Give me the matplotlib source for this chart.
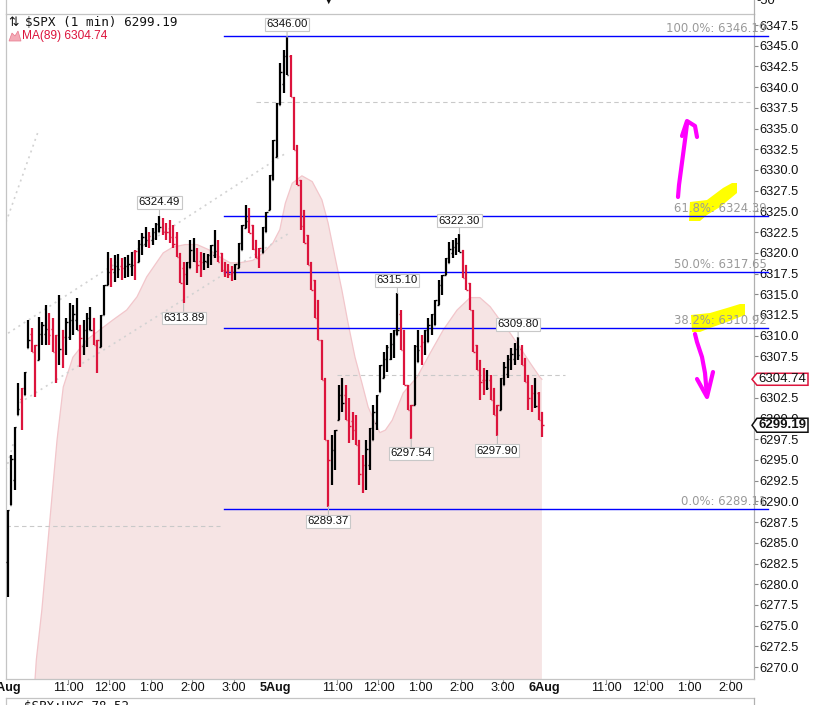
import matplotlib
matplotlib.use('Agg')
import matplotlib.pyplot as plt
import numpy as np
from matplotlib.patches import Polygon
from matplotlib.lines import Line2D
from matplotlib.transforms import IdentityTransform, Affine2D

plt.rcParams['font.family'] = ['Liberation Sans', 'DejaVu Sans']

# ---------------- data (5-minute bars, Aug 4 09:30 -> Aug 5 16:00) ----------------
BAR_MINUTES = 5
HIGH = [
    6288.96, 6295.59, 6298.98, 6304.29, 6303.68, 6305.62, 6311.89, 6310.93, 6308.87, 6312.25, 6311.65, 6313.70, 6312.74,
    6312.13, 6310.08, 6314.91, 6310.69, 6312.13, 6313.94, 6313.70, 6314.55, 6311.29, 6311.89, 6312.74, 6313.46, 6312.13,
    6309.48, 6312.50, 6316.12, 6320.10, 6319.38, 6319.74, 6319.86, 6319.38, 6319.50, 6319.74, 6320.10, 6320.34, 6321.55,
    6322.39, 6323.12, 6322.52, 6323.00, 6323.60, 6324.49, 6324.20, 6323.60, 6323.96, 6323.36, 6322.52, 6319.98, 6318.89,
    6318.89, 6321.55, 6321.79, 6320.58, 6320.10, 6319.98, 6319.86, 6320.95, 6322.76, 6321.55, 6319.98, 6318.89, 6318.65,
    6318.41, 6318.65, 6321.19, 6323.36, 6325.77, 6325.41, 6323.36, 6321.55, 6320.58, 6323.12, 6324.93, 6329.40, 6333.62,
    6338.09, 6342.92, 6344.48, 6346.00, 6343.88, 6338.81, 6333.02, 6328.79, 6325.17, 6322.15, 6318.89, 6316.72, 6314.31,
    6309.48, 6304.89, 6297.41, 6298.01, 6298.62, 6304.05, 6304.89, 6304.05, 6302.48, 6300.79, 6300.43, 6297.41, 6295.59,
    6297.41, 6298.86, 6301.63, 6302.84, 6306.46, 6308.03, 6308.87, 6310.32, 6310.69, 6315.10, 6313.10, 6310.69, 6304.05,
    6301.63, 6308.87, 6310.69, 6310.08, 6310.69, 6312.13, 6312.62, 6314.31, 6316.72, 6317.32, 6319.38, 6321.31, 6321.55,
    6321.79, 6322.30, 6320.34, 6318.53, 6316.36, 6313.10, 6308.87, 6307.06, 6306.10, 6305.86, 6305.25, 6303.68, 6301.63,
    6304.89, 6306.82, 6307.67, 6308.51, 6309.11, 6309.80, 6308.87, 6307.31, 6305.25, 6304.05, 6304.89, 6303.20, 6300.79,
]
LOW = [
    6278.46, 6289.56, 6291.37, 6300.43, 6298.62, 6302.84, 6308.51, 6308.03, 6302.60, 6307.06, 6308.87, 6308.87, 6308.87,
    6308.03, 6304.29, 6306.46, 6306.10, 6307.67, 6309.48, 6310.08, 6310.69, 6306.22, 6307.67, 6308.63, 6310.69, 6308.87,
    6305.50, 6308.63, 6312.50, 6316.12, 6315.88, 6316.48, 6316.96, 6316.72, 6316.96, 6317.08, 6317.20, 6316.72, 6318.89,
    6319.74, 6320.70, 6320.58, 6320.95, 6321.55, 6322.52, 6322.15, 6321.55, 6321.19, 6320.58, 6319.50, 6316.36, 6313.89,
    6316.12, 6318.17, 6318.89, 6317.57, 6317.08, 6317.93, 6318.17, 6318.53, 6319.38, 6318.89, 6317.69, 6317.08, 6316.96,
    6316.60, 6316.72, 6318.17, 6320.34, 6323.00, 6322.39, 6320.34, 6319.38, 6318.17, 6319.98, 6322.52, 6325.17, 6328.79,
    6331.57, 6337.85, 6339.29, 6341.47, 6338.81, 6332.41, 6328.19, 6322.76, 6321.19, 6318.53, 6315.51, 6312.13, 6309.48,
    6304.65, 6297.41, 6289.37, 6291.98, 6293.79, 6299.82, 6300.79, 6299.82, 6297.04, 6297.41, 6296.80, 6291.98, 6291.01,
    6291.37, 6293.79, 6297.41, 6298.62, 6303.20, 6304.89, 6305.62, 6307.06, 6307.31, 6310.08, 6308.27, 6304.05, 6301.03,
    6297.54, 6301.63, 6306.82, 6306.46, 6307.67, 6309.24, 6310.08, 6311.29, 6313.70, 6314.91, 6317.32, 6318.77, 6319.38,
    6319.74, 6320.10, 6316.96, 6315.51, 6313.10, 6308.03, 6305.86, 6302.24, 6302.84, 6303.44, 6302.24, 6300.43, 6297.90,
    6301.03, 6304.05, 6304.89, 6305.86, 6306.46, 6307.06, 6306.46, 6304.41, 6301.03, 6300.79, 6301.27, 6299.82, 6297.77,
]
LAST_CLOSE = 6299.19

# MA(89) read at (minute, value)
MA_MIN = [41, 44, 52, 64, 74, 83, 97, 117, 136, 155, 175, 190, 204, 228, 242, 260, 277, 296, 310, 325,
          339, 358, 373, 387, 397, 405, 415, 429, 444, 458, 467, 477, 487, 496, 506, 516, 525, 535, 542, 550,
          560, 576, 596, 615, 634, 654, 673, 687, 702, 716, 731, 745, 760, 774, 777]
MA_VAL = [6267.2, 6270.9, 6276.9, 6288.1, 6297.4, 6303.8, 6307.4, 6309.5, 6310.7, 6311.9, 6313.1, 6314.7,
          6317.1, 6320.0, 6320.7, 6321.0, 6321.0, 6320.3, 6319.5, 6318.8, 6318.8, 6319.1, 6320.0, 6321.2,
          6322.8, 6326.0, 6328.4, 6329.3, 6328.6, 6326.4, 6323.6, 6319.5, 6315.5, 6311.5, 6307.4, 6304.3,
          6301.4, 6299.5, 6298.3, 6298.6, 6299.8, 6303.1, 6305.0, 6307.9, 6310.7, 6313.1, 6314.6, 6314.6,
          6313.5, 6311.9, 6310.3, 6308.6, 6306.7, 6305.0, 6304.74]

# Fibonacci retracement
FIB_PCT = [100.0, 61.8, 50.0, 38.2, 0.0]
FIB_VAL = [6346.19, 6324.39, 6317.65, 6310.92, 6289.11]
FIB_START_MIN = 316

# marked extremes: (bar index, 'H' or 'L')
MARKS = [(44, 'H'), (51, 'L'), (81, 'H'), (93, 'L'), (113, 'H'), (117, 'L'), (131, 'H'), (142, 'L'), (148, 'H')]

# gray dashed horizontal lines: (price, start minute, end minute)
DASHED = [(6338.2, 362, 1079), (6305.25, 480, 811), (6287.0, 0, 310)]
# gray dotted trend lines: ((m0, p0), (m1, p1))
DOTTED = [((0, 6323.7), (46, 6334.5)), ((3, 6310.3), (407, 6332.1)),
          ((20, 6301.9), (409, 6322.3)), ((0, 6293.8), (12, 6297.4))]

# x-axis ticks (minutes from Aug 4 09:30)
XTICKS = [0, 90, 150, 210, 270, 330, 390, 480, 540, 600, 660, 720, 780, 870, 930, 990, 1050]
XLABELS = ['4Aug', '11:00', '12:00', '1:00', '2:00', '3:00', '5Aug', '11:00', '12:00', '1:00', '2:00', '3:00',
           '6Aug', '11:00', '12:00', '1:00', '2:00']
DAY_LABELS = {'4Aug', '5Aug', '6Aug'}

# ---------------- figure ----------------
W, H = 827, 705
fig = plt.figure(figsize=(W / 100, H / 100), dpi=100)
fig.patch.set_facecolor('white')


def fx(x):
    return x / W


def fy(y):
    return 1 - y / H


AX_L, AX_R, AX_T, AX_B = 6, 754, 14, 679
ax = fig.add_axes([fx(AX_L), fy(AX_B), (AX_R - AX_L) / W, (AX_B - AX_T) / H])
ax.set_facecolor('white')
ax.set_xlim(0, 1084.5)
ax.set_ylim(6268.56, 6348.83)

RED = '#dc143c'
GRAY_SP = '#c4c4c4'

# MA area
ax.fill_between(MA_MIN, MA_VAL, 6200, color='#f6e4e4', lw=0, zorder=1)
ax.plot(MA_MIN, MA_VAL, color='#f2c6cb', lw=0.9, zorder=1.2)

# dashed & dotted helper lines
for p, m0, m1 in DASHED:
    ax.plot([m0, m1], [p, p], color='#c9c9c9', lw=0.8, ls=(0, (4, 3)), zorder=1.5)
for (m0, p0), (m1, p1) in DOTTED:
    ax.plot([m0, m1], [p0, p1], color='#d2d2d2', lw=1.2, ls=(0, (1.2, 2.5)), zorder=1.5)

# overlay transform for hand-drawn marks (pixel coords from top-left of figure)
ov = Affine2D().scale(1, -1).translate(0, H) + IdentityTransform()

# yellow highlights (drawn under the fib text)
HL1 = [(689, 221), (690, 202), (707, 200), (723, 188), (732, 183), (737, 183), (737, 193), (720, 207), (707, 215), (700, 221)]
HL2 = [(692, 332), (691, 315), (710, 313), (727, 308), (740, 304), (745, 304), (745, 315), (727, 322), (710, 328), (700, 332)]
for hl in (HL1, HL2):
    ax.add_patch(Polygon(hl, closed=True, transform=ov, fc='#ffff00', ec='none', zorder=2.5, clip_on=False))

# fib lines + labels
for pct, v in zip(FIB_PCT, FIB_VAL):
    ax.plot([FIB_START_MIN, 1105], [v, v], color='#0000ff', lw=1.0, zorder=3, clip_on=False)
    ax.annotate(f'{pct:.1f}%: {v:.2f}', xy=(1103, v), xytext=(0, 3), textcoords='offset points',
                ha='right', va='baseline', color='#999999', fontsize=8.4, family='DejaVu Sans',
                annotation_clip=False, zorder=3.2)

# price bars
hi = np.array(HIGH)
lo = np.array(LOW)
t = np.arange(len(hi)) * BAR_MINUTES + BAR_MINUTES / 2
mid = (hi + lo) / 2
prev = np.r_[mid[0] - 1, mid[:-1]]
nxt = np.r_[mid[1:], LAST_CLOSE]
up = mid >= prev
cols = np.where(up, '#000000', RED)
op = np.clip(prev, lo, hi)
cl = np.clip(nxt, lo, hi)
cl[-1] = LAST_CLOSE
ax.vlines(t, lo, hi, colors=cols, lw=1.6, zorder=4)
ax.hlines(op, t - 2.0, t, colors=cols, lw=1.0, zorder=4)
ax.hlines(cl, t, t + 2.0, colors=cols, lw=1.0, zorder=4)

# extreme tags
for idx, kind in MARKS:
    val = hi[idx] if kind == 'H' else lo[idx]
    dy = 9.5 if kind == 'H' else -10.5
    ax.annotate(f'{val:.2f}', xy=(t[idx], val), xytext=(0, dy), textcoords='offset points',
                ha='center', va='center', fontsize=8.2, family='Liberation Sans', color='#111111',
                bbox=dict(boxstyle='square,pad=0.12', fc='white', ec='#c8c8c8', lw=0.8),
                arrowprops=dict(arrowstyle='-', color='#bdbdbd', lw=0.8, shrinkA=0, shrinkB=0),
                zorder=6)

# magenta arrows
ARROW_UP = [(678, 197), (679, 185), (681, 170), (683, 155), (685, 140), (687, 124)]
HEAD_UP = [(682, 136), (687, 121), (695, 126), (697, 137)]
ARROW_DN = [(695, 334), (697, 342), (702, 357), (705, 373), (707, 396)]
HEAD_DN = [(697, 379), (707, 397), (713, 372)]
for pts in (ARROW_UP, HEAD_UP, ARROW_DN, HEAD_DN):
    xs, ys = zip(*pts)
    fig.add_artist(Line2D(xs, ys, transform=ov, color='#ff00ff', lw=3.0,
                          solid_capstyle='round', solid_joinstyle='round', zorder=8))

# axes styling
for s in ['left', 'top', 'bottom']:
    ax.spines[s].set_color(GRAY_SP)
    ax.spines[s].set_linewidth(0.9)
ax.spines['right'].set_color('#b0b0b0')
ax.spines['right'].set_linewidth(0.9)

ax.yaxis.tick_right()
yt = np.arange(6270, 6347.6, 2.5)
ax.set_yticks(yt)
ax.set_yticklabels([f'{v:.1f}' for v in yt])
ax.tick_params(axis='y', direction='out', length=3, width=0.8, color='#888888', pad=1,
               labelsize=9.3, labelcolor='#111111')

ax.set_xticks(XTICKS)
ax.set_xticklabels(XLABELS)
ax.tick_params(axis='x', direction='out', length=3.5, width=0.8, color='#999999', pad=-1.4,
               labelsize=9.1, labelcolor='#111111')
for tk, lab in zip(ax.xaxis.get_major_ticks(), XLABELS):
    if lab in DAY_LABELS:
        tk.label1.set_fontweight('bold')
        tk.tick1line.set_visible(False)

# right-axis price tags
def price_tag(val, text, ec, bold, half):
    yd = ax.transData.transform((0, val))[1]
    x0 = ax.transAxes.transform((1, 0))[0]
    verts = [(x0 - 2, yd), (x0 + 3, yd + half), (x0 + 54, yd + half), (x0 + 54, yd - half), (x0 + 3, yd - half)]
    fig.add_artist(Polygon(verts, closed=True, transform=IdentityTransform(), fc='white', ec=ec, lw=1.1, zorder=10))
    fig.text(x0 + 28.5, yd, text, transform=IdentityTransform(), ha='center', va='center', fontsize=9.5,
             fontweight='bold' if bold else 'normal', family='Liberation Sans', color='#111111', zorder=11)


price_tag(MA_VAL[-1], f'{MA_VAL[-1]:.2f}', RED, False, 6)
price_tag(LAST_CLOSE, f'{LAST_CLOSE:.2f}', '#111111', True, 7)

# legend (top-left)
fig.text(fx(8), fy(22.5), '\u21c5', fontsize=9, family='DejaVu Sans', va='center', ha='left', color='#111111')
fig.text(fx(25), fy(22.5), f'$SPX (1 min) {LAST_CLOSE:.2f}', family='DejaVu Sans Mono', fontsize=9.1,
         va='center', ha='left', color='#111111')
fig.add_artist(Polygon([(9, 41), (12, 33), (15, 36), (18, 31), (21, 41)], closed=True, transform=ov,
                       fc='#f3aab6', ec='#e8788c', lw=0.5, zorder=5))
fig.text(fx(22), fy(36.5), f'MA(89) {MA_VAL[-1]:.2f}', family='Liberation Sans', fontsize=8.6,
         va='center', ha='left', color=RED)

# upper panel remnants
fig.add_artist(Line2D([AX_R, AX_R], [0, AX_T], transform=ov, color='#b0b0b0', lw=0.9))
fig.add_artist(Line2D([AX_L, AX_L], [0, AX_T], transform=ov, color=GRAY_SP, lw=0.9))
fig.text(fx(756), fy(1.5), '-50', fontsize=9.3, va='center', ha='left', color='#111111')
fig.text(fx(329), fy(0), '\u25bc', fontsize=7, va='center', ha='center', color='#111111', family='DejaVu Sans')

# lower panel remnants
fig.add_artist(Line2D([AX_L, AX_R], [698, 698], transform=ov, color=GRAY_SP, lw=0.9))
fig.add_artist(Line2D([AX_L, AX_L], [698, 705], transform=ov, color=GRAY_SP, lw=0.9))
fig.add_artist(Line2D([AX_R, AX_R], [698, 705], transform=ov, color='#b0b0b0', lw=0.9))
fig.text(fx(9), fy(699.5), '\u2014 $SPX:HYG 78.52', family='DejaVu Sans Mono', fontsize=9, va='top',
         ha='left', color='#111111')

fig.savefig('out.png', dpi=100, facecolor='white')
